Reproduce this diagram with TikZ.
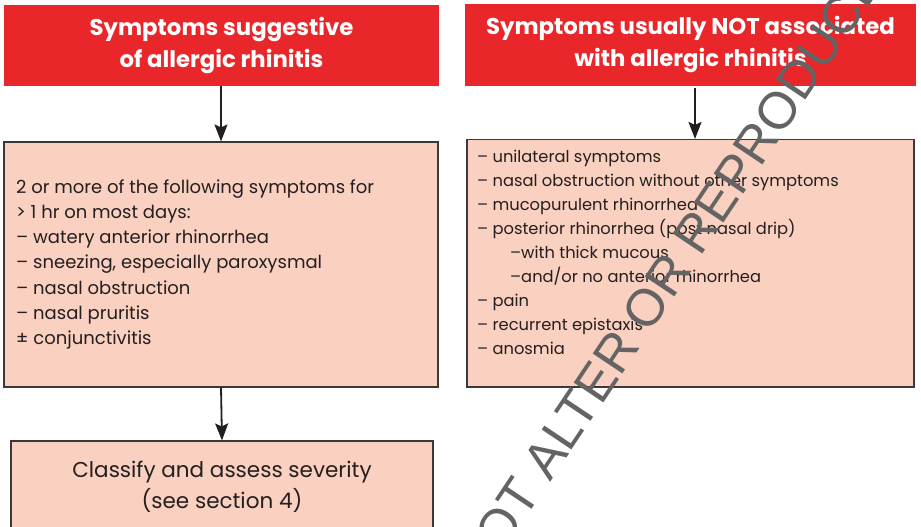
\documentclass[tikz,border=0pt]{standalone}
\usepackage{fontspec}
\setmainfont{Poppins}
\newfontfamily\wmfont{Liberation Sans}
\usetikzlibrary{arrows.meta,calc}
\definecolor{hdrred}{RGB}{233,38,42}
\definecolor{boxpink}{RGB}{250,208,192}
\definecolor{boxline}{RGB}{60,56,56}
\definecolor{txt}{RGB}{35,31,32}
\definecolor{wmgray}{RGB}{100,100,100}
\begin{document}
\begin{tikzpicture}[x=1pt,y=-1pt,
  header/.style={fill=hdrred, draw=none, text=white, align=center, inner sep=0pt,
    font=\bfseries\fontsize{22.8}{32}\selectfont},
  panel/.style={fill=boxpink, draw=boxline, line width=1.1pt, inner sep=0pt},
  bodytext/.style={text=txt, inner sep=0pt, anchor=base west},
  flow/.style={draw=txt, line width=1.8pt, -{Stealth[length=17pt,width=13pt,inset=3pt]}}
]
\useasboundingbox (0,0) rectangle (921,527);
\clip (0,0) rectangle (921,527);
% header boxes
\node[header, minimum width=435pt, minimum height=81pt] (h1) at (221.5,45.5)
  {Symptoms suggestive\\of allergic rhinitis};
\node[header, minimum width=451pt, minimum height=82pt] (h2) at (690.5,45)
  {Symptoms usually NOT associated\\with allergic rhinitis};
% panels
\node[panel, minimum width=434pt, minimum height=245pt] (p1) at (221,264.5) {};
\node[panel, minimum width=447pt, minimum height=247.5pt] (p2) at (690.5,263.25) {};
\node[panel, minimum width=422pt, minimum height=94pt] (p3) at (222,488) {};
% texts
\node[bodytext] (t1) at (16,193) {\fontsize{18}{25.3}\selectfont
  \begin{tabular}[t]{@{}l@{}}
  2 or more of the following symptoms for\\
  > 1 hr on most days:\\
  – watery anterior rhinorrhea\\
  – sneezing, especially paroxysmal\\
  – nasal obstruction\\
  – nasal pruritis\\
  ± conjunctivitis
  \end{tabular}};
\node[bodytext] (t2) at (477,162) {\fontsize{16.3}{24}\selectfont
  \begin{tabular}[t]{@{}l@{}}
  – unilateral symptoms\\
  – nasal obstruction without other symptoms\\
  – mucopurulent rhinorrhea\\
  – posterior rhinorrhea (post nasal drip)\\
  \hspace*{33pt}–with thick mucous\\
  \hspace*{33pt}–and/or no anterior rhinorrhea\\
  – pain\\
  – recurrent epistaxis\\
  – anosmia
  \end{tabular}};
\node[text=txt, inner sep=0pt, anchor=base] (t3) at (222,477) {\fontsize{21.5}{31}\selectfont
  \begin{tabular}[t]{@{}c@{}}
  Classify and assess severity\\
  (see section 4)
  \end{tabular}};
% connectors
\draw[flow] (h1.south -| p1.north) -- (p1.north);
\draw[flow] ($(h2.south)+(4.5,2)$) -- ($(p2.north)+(4.5,0)$);
\draw[flow] (p1.south) -- (p3.north);
% watermark
\node[text=wmgray, inner sep=0pt, rotate=56.2, font=\wmfont\fontsize{52}{52}\selectfont] (wm) at (643,312)
  {DO NOT ALTER OR REPRODUCE};
\end{tikzpicture}
\end{document}
